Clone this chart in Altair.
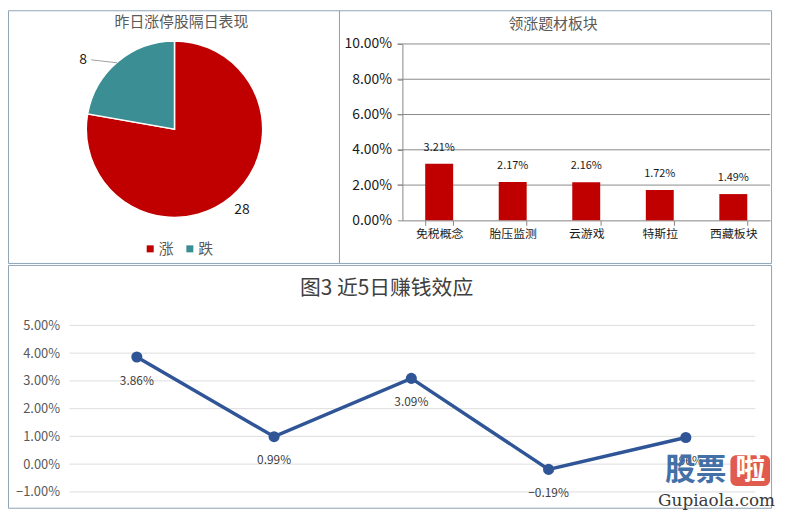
import altair as alt
import pandas as pd

FONT = "Noto Sans CJK SC"
BORDER = "#8ea3b5"
W, H = 776, 504

# ---- data ----
pie_cats = ["涨", "跌"]
pie_vals = [28, 8]
pie_colors = ["#C00000", "#3B8E94"]

bar_cats = ["免税概念", "胎压监测", "云游戏", "特斯拉", "西藏板块"]
bar_vals = [0.0321, 0.0217, 0.0216, 0.0172, 0.0149]
bar_ticks = [0.02, 0.04, 0.06, 0.08, 0.10]

line_days = ["第1日", "第2日", "第3日", "第4日", "第5日"]
line_vals = [0.0386, 0.0099, 0.0309, -0.0019, 0.0096]
line_ticks = [-0.01, 0.0, 0.01, 0.02, 0.03, 0.04, 0.05]

titles = ["昨日涨停股隔日表现", "领涨题材板块", "图3 近5日赚钱效应"]

one = pd.DataFrame({"a": [0]})


def label_text(txt, x, y, size, color, weight="normal", font=FONT):
    return alt.Chart(pd.DataFrame({"t": [txt]})).mark_text(
        fontSize=size, font=font, color=color, fontWeight=weight
    ).encode(text="t:N", x=alt.value(x), y=alt.value(y))


def frame(x0, x1, y0, y1):
    return alt.Chart(one).mark_rect(fillOpacity=0, stroke=BORDER, strokeWidth=1).encode(
        x=alt.value(x0), x2=alt.value(x1), y=alt.value(y0), y2=alt.value(y1))


# ---- pie panel ----
CX, CY = 168, 120
pie_df = pd.DataFrame({"cat": pie_cats, "n": pie_vals, "idx": list(range(len(pie_cats)))})
pie_base = alt.Chart(pie_df).encode(
    theta=alt.Theta("n:Q", stack=True),
    order=alt.Order("idx:Q"),
)
arc = pie_base.mark_arc(outerRadius=89, stroke="white", strokeWidth=1.5).encode(
    x=alt.value(CX), y=alt.value(CY),
    color=alt.Color(
        "cat:N", sort=pie_cats,
        scale=alt.Scale(domain=pie_cats, range=pie_colors),
        legend=alt.Legend(orient="none", legendX=136, legendY=233, direction="horizontal",
                          title=None, symbolType="square", symbolSize=50,
                          symbolStrokeWidth=0, labelFontSize=15, labelFont=FONT,
                          labelColor="#595959", columnPadding=8, labelOffset=1),
    ),
)
lab_big = pie_base.mark_text(radius=106, fontSize=14, font=FONT, color="#1a1a1a").encode(
    x=alt.value(CX), y=alt.value(CY), text="n:Q",
    opacity=alt.condition(alt.datum.cat == pie_cats[0], alt.value(1), alt.value(0)),
)
lab_small = pie_base.mark_text(radius=100, dx=-28, dy=7, fontSize=14, font=FONT, color="#1a1a1a").encode(
    x=alt.value(CX), y=alt.value(CY), text="n:Q",
    opacity=alt.condition(alt.datum.cat == pie_cats[1], alt.value(1), alt.value(0)),
)
leader = alt.Chart(one).mark_rule(color="#a0a0a0", strokeWidth=1).encode(
    x=alt.value(84), y=alt.value(50), x2=alt.value(110), y2=alt.value(53))
pie = alt.layer(frame(0.5, 334.5, 0.5, 255.5), arc, lab_big, lab_small, leader,
                label_text(titles[0], 175, 12, 15, "#595959"))

# ---- bar panel ----
bar_df = pd.DataFrame({"cat": bar_cats, "pct": bar_vals})
ysc = alt.Scale(domain=[0, 0.1], range=[212, 34], nice=False, zero=True)
xb = alt.X("cat:N", sort=bar_cats,
           scale=alt.Scale(range=[398, 769], paddingInner=0.62, paddingOuter=0.31),
           axis=alt.Axis(title=None, orient="bottom", offset=-(H - 212), labelFont=FONT, labelFontSize=12,
                         labelColor="#1a1a1a", labelAngle=0, domainColor="#868686",
                         tickColor="#868686", tickSize=5, tickBand="extent", labelPadding=3))
grid_b = alt.Chart(pd.DataFrame({"pct": bar_ticks})).mark_rule(color="#8a8a8a", strokeWidth=1).encode(
    y=alt.Y("pct:Q", scale=ysc), x=alt.value(393), x2=alt.value(769))
bars = alt.Chart(bar_df).mark_bar(color="#C00000").encode(
    x=xb,
    y=alt.Y("pct:Q", scale=ysc,
            axis=alt.Axis(title=None, orient="left", values=[0.0] + bar_ticks, format=".2%",
                          offset=-398, grid=False, labelFont=FONT, labelFontSize=14,
                          labelColor="#1a1a1a", domainColor="#868686", tickColor="#868686",
                          tickSize=5, labelPadding=6)),
)
bar_lab = alt.Chart(bar_df).mark_text(dy=-11, baseline="bottom", fontSize=11, font=FONT, color="#1a1a1a").encode(
    x=alt.X("cat:N", sort=bar_cats), y=alt.Y("pct:Q", scale=ysc),
    text=alt.Text("pct:Q", format=".2%"))
bar = alt.layer(frame(334.5, 770.5, 0.5, 255.5), grid_b, bars, bar_lab,
                label_text(titles[1], 550, 14, 15, "#595959"))

# ---- line panel ----
line_df = pd.DataFrame({"day": line_days, "pct": line_vals})
ysl = alt.Scale(domain=[-0.01, 0.05], range=[486, 318], nice=False, zero=False)
xl = alt.X("day:N", sort=line_days, scale=alt.Scale(type="point", range=[130, 684], padding=0), axis=None)
grid_l = alt.Chart(pd.DataFrame({"pct": line_ticks})).mark_rule(color="#dedede", strokeWidth=1).encode(
    y=alt.Y("pct:Q", scale=ysl,
            axis=alt.Axis(title=None, orient="left", values=line_ticks, format=".2%", offset=-62,
                          grid=False, ticks=False, domain=False, labelFont=FONT, labelFontSize=13,
                          labelColor="#595959", labelPadding=10)),
    x=alt.value(62), x2=alt.value(754))
ln = alt.Chart(line_df).mark_line(color="#2F5597", strokeWidth=3.5).encode(x=xl, y=alt.Y("pct:Q", scale=ysl))
pts = alt.Chart(line_df).mark_point(filled=True, color="#2F5597", size=125, opacity=1).encode(
    x=xl, y=alt.Y("pct:Q", scale=ysl))
line_lab = alt.Chart(line_df).mark_text(dy=24, fontSize=12, font=FONT, color="#404040").encode(
    x=xl, y=alt.Y("pct:Q", scale=ysl), text=alt.Text("pct:Q", format=".2%"))

# watermark
wm_box = alt.Chart(one).mark_rect(color="#E05A4E", cornerRadius=6).encode(
    x=alt.value(729), x2=alt.value(769), y=alt.value(449), y2=alt.value(480))
line = alt.layer(frame(0.5, 770.5, 257.5, 502.5), grid_l, ln, pts, line_lab,
                 label_text(titles[2], 382, 281, 21, "#404040"),
                 wm_box,
                 label_text("股票", 694, 465, 31, "#4470A8", "bold"),
                 label_text("啦", 749, 464, 30, "white", "bold"),
                 label_text("Gupiaola.com", 715, 495, 17, "#3a3a3a", font="DejaVu Serif"))

chart = alt.layer(pie, bar, line).resolve_scale(
    x="independent", y="independent"
).properties(
    width=W, height=H, padding=0, background="white",
    autosize=alt.AutoSizeParams(type="none", contains="padding"),
).configure_view(stroke=None)

chart.save("out.html", embed_options={"renderer": "svg", "actions": False})
